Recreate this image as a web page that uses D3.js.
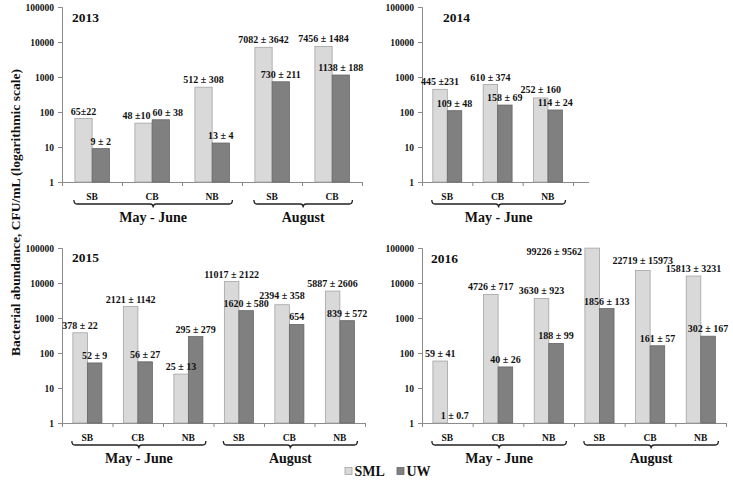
<!DOCTYPE html>
<html><head><meta charset="utf-8">
<script src="https://cdn.jsdelivr.net/npm/d3@7"></script>
<style>
body{margin:0;background:#fff}
text{font-family:"Liberation Serif","Times New Roman",serif;font-weight:bold;fill:#111}
</style>
</head><body>
<svg id="c" width="733" height="481"></svg>
<script>
// ---------------- DATA ----------------
const yTicks = [1, 10, 100, 1000, 10000, 100000];
const seriesNames = ["SML", "UW"];
const yTitle = "Bacterial abundance, CFU/mL (logarithmic scale)";

const cat2013 = ["SB", "CB", "NB", "SB", "CB"];
const period2013 = ["May - June", "May - June", "May - June", "August", "August"];
const sml2013 = [65, 48, 512, 7082, 7456];
const uw2013 = [9, 60, 13, 730, 1138];
const smlLab2013 = ["65±22", "48 ±10", "512 ± 308", "7082 ± 3642", "7456 ± 1484"];
const uwLab2013 = ["9 ± 2", "60 ± 38", "13 ± 4", "730 ± 211", "1138 ± 188"];

const cat2014 = ["SB", "CB", "NB"];
const period2014 = ["May - June", "May - June", "May - June"];
const sml2014 = [445, 610, 252];
const uw2014 = [109, 158, 114];
const smlLab2014 = ["445 ±231", "610 ± 374", "252 ± 160"];
const uwLab2014 = ["109 ± 48", "158 ± 69", "114 ± 24"];

const cat2015 = ["SB", "CB", "NB", "SB", "CB", "NB"];
const period2015 = ["May - June", "May - June", "May - June", "August", "August", "August"];
const sml2015 = [378, 2121, 25, 11017, 2394, 5887];
const uw2015 = [52, 56, 295, 1620, 654, 839];
const smlLab2015 = ["378 ± 22", "2121 ± 1142", "25 ± 13", "11017 ± 2122", "2394 ± 358", "5887 ± 2606"];
const uwLab2015 = ["52 ± 9", "56 ± 27", "295 ± 279", "1620 ± 580", "654", "839 ± 572"];

const cat2016 = ["SB", "CB", "NB", "SB", "CB", "NB"];
const period2016 = ["May - June", "May - June", "May - June", "August", "August", "August"];
const sml2016 = [59, 4726, 3630, 99226, 22719, 15813];
const uw2016 = [1, 40, 188, 1856, 161, 302];
const smlLab2016 = ["59 ± 41", "4726 ± 717", "3630 ± 923", "99226 ± 9562", "22719 ± 15973", "15813 ± 3231"];
const uwLab2016 = ["1 ± 0.7", "40 ± 26", "188 ± 99", "1856 ± 133", "161 ± 57", "302 ± 167"];

// ---------------- LAYOUT ----------------
const colors = { SML: "#d9d9d9", UW: "#808080" };
const strokes = { SML: "#a3a3a3", UW: "#666666" };

const panels = [
  { year: "2013", cats: cat2013, periods: period2013, sml: sml2013, uw: uw2013, sL: smlLab2013, uL: uwLab2013,
    x0: 62, x1: 362, axisEnd: 362, yTop: 7, yBot: 182, yearX: 72, yearY: 21.5 },
  { year: "2014", cats: cat2014, periods: period2014, sml: sml2014, uw: uw2014, sL: smlLab2014, uL: uwLab2014,
    x0: 422, x1: 573, axisEnd: 589, yTop: 7, yBot: 182, yearX: 443, yearY: 21.5 },
  { year: "2015", cats: cat2015, periods: period2015, sml: sml2015, uw: uw2015, sL: smlLab2015, uL: uwLab2015,
    x0: 62, x1: 365, axisEnd: 365, yTop: 248, yBot: 423, yearX: 72, yearY: 261.5 },
  { year: "2016", cats: cat2016, periods: period2016, sml: sml2016, uw: uw2016, sL: smlLab2016, uL: uwLab2016,
    x0: 422, x1: 726, axisEnd: 727, yTop: 248, yBot: 423, yearX: 431, yearY: 262.5 }
];

const svg = d3.select("#c");
const axisColor = "#8a8a8a";

panels.forEach(p => {
  const g = svg.append("g");
  const n = p.cats.length;
  const idx = d3.range(n);
  const x = d3.scaleBand().domain(idx).range([p.x0, p.x1]).padding(0);
  const bw = x.bandwidth();
  const xs = d3.scaleBand().domain(seriesNames).range([bw * 0.215, bw * 0.79]).padding(0);
  const y = d3.scaleLog().domain([1, 100000]).range([p.yBot, p.yTop]);

  // y axis
  const ya = g.append("g").attr("transform", `translate(${p.x0},0)`)
    .call(d3.axisLeft(y).tickValues(yTicks).tickFormat(d3.format("d")).tickSize(4).tickPadding(4));
  ya.select(".domain").attr("stroke", axisColor);
  ya.selectAll(".tick line").attr("stroke", axisColor);
  ya.selectAll(".tick text").attr("font-size", 9.5).attr("fill", "#111")
    .attr("font-family", "Liberation Serif").attr("font-weight", "bold");

  // x axis (cell boundaries as ticks)
  const xl = d3.scaleLinear().domain([0, n]).range([p.x0, p.x1]);
  const xa = g.append("g").attr("transform", `translate(0,${p.yBot})`)
    .call(d3.axisBottom(xl).tickValues(d3.range(n + 1)).tickFormat("").tickSize(4).tickSizeOuter(0));
  xa.select(".domain").attr("stroke", axisColor);
  xa.selectAll(".tick line").attr("stroke", axisColor);
  if (p.axisEnd > p.x1) {
    g.append("line").attr("x1", p.x1).attr("x2", p.axisEnd).attr("y1", p.yBot + 0.5).attr("y2", p.yBot + 0.5)
      .attr("stroke", axisColor);
  }

  // bars
  const rows = [];
  idx.forEach(i => {
    rows.push({ i, s: "SML", v: p.sml[i], lab: p.sL[i] });
    rows.push({ i, s: "UW", v: p.uw[i], lab: p.uL[i] });
  });
  g.selectAll("rect.bar").data(rows).join("rect")
    .attr("class", "bar")
    .attr("x", d => x(d.i) + xs(d.s))
    .attr("width", xs.bandwidth())
    .attr("y", d => y(d.v))
    .attr("height", d => Math.max(0, p.yBot - y(d.v)))
    .attr("fill", d => colors[d.s])
    .attr("stroke", d => d.v > 1 ? strokes[d.s] : "none")
    .attr("stroke-width", 0.8);

  // value labels
  const labs = rows.map(d => {
    const left = x(d.i) + xs(d.s);
    const top = y(d.v);
    const t = g.append("text").attr("font-size", 10).text(d.lab);
    const w = t.node().getComputedTextLength();
    const o = { d, t, w, cx: left + xs.bandwidth() / 2, y: top - 4, fixed: false };
    if (top - 4 - 8 < p.yTop - 2) {
      o.fixed = true;
      o.anchorEnd = left - 3;
      o.y = top + 7;
    }
    return o;
  });
  // same-category horizontal separation
  idx.forEach(i => {
    const L = labs[2 * i], D = labs[2 * i + 1];
    if (L.fixed || D.fixed) return;
    if (Math.abs(L.y - D.y) < 9) {
      const ov = (L.cx + L.w / 2 + 2) - (D.cx - D.w / 2);
      if (ov > 0) { L.cx -= ov / 2; D.cx += ov / 2; }
    }
  });
  // cross-category vertical separation
  for (let a = 0; a < labs.length; a++) {
    for (let b = a + 1; b < labs.length; b++) {
      const A = labs[a], B = labs[b];
      if (A.fixed || B.fixed || A.d.i === B.d.i) continue;
      const hov = Math.min(A.cx + A.w / 2, B.cx + B.w / 2) - Math.max(A.cx - A.w / 2, B.cx - B.w / 2);
      if (hov > 0 && Math.abs(A.y - B.y) < 8) {
        if (A.y < B.y) A.y = B.y - 8; else B.y = A.y - 8;
      }
    }
  }
  labs.forEach(o => {
    if (o.fixed) {
      o.t.attr("x", o.anchorEnd).attr("y", o.y).attr("text-anchor", "end");
    } else {
      let cx = Math.min(o.cx, 731 - o.w / 2);
      o.t.attr("x", cx).attr("y", o.y).attr("text-anchor", "middle");
    }
  });

  // category labels
  g.selectAll("text.cat").data(idx).join("text")
    .attr("class", "cat")
    .attr("x", i => x(i) + bw / 2)
    .attr("y", p.yBot + 17.5)
    .attr("text-anchor", "middle")
    .attr("font-size", 9.5)
    .text(i => p.cats[i]);

  // period braces
  const groups = [];
  idx.forEach(i => {
    const last = groups[groups.length - 1];
    if (last && last.name === p.periods[i]) last.end = i;
    else groups.push({ name: p.periods[i], start: i, end: i });
  });
  groups.forEach(gr => {
    const xsx = x(gr.start) + xs("SML") - 1;
    const xex = x(gr.end) + xs("UW") + xs.bandwidth() + 3;
    const xm = (xsx + xex) / 2;
    const yy = p.yBot + 22, r = 3;
    const path = `M${xsx},${yy - 4} Q${xsx},${yy} ${xsx + r},${yy} L${xm - r},${yy} Q${xm},${yy} ${xm},${yy + 3.5} Q${xm},${yy} ${xm + r},${yy} L${xex - r},${yy} Q${xex},${yy} ${xex},${yy - 4}`;
    g.append("path").attr("d", path).attr("fill", "none").attr("stroke", "#222").attr("stroke-width", 1.3);
    g.append("text").attr("x", xm).attr("y", p.yBot + 39.5).attr("text-anchor", "middle")
      .attr("font-size", 14).text(gr.name);
  });

  // year label
  g.append("text").attr("x", p.yearX).attr("y", p.yearY).attr("font-size", 13.5).text(p.year);
});

// y-axis title
svg.append("text")
  .attr("transform", "translate(19.5,212.5) rotate(-90)")
  .attr("text-anchor", "middle")
  .attr("font-size", 13.5)
  .text(yTitle);

// legend
const leg = svg.append("g");
const legItems = [{ s: "SML", x: 345 }, { s: "UW", x: 397 }];
legItems.forEach(it => {
  leg.append("rect").attr("x", it.x).attr("y", 467.5).attr("width", 7).attr("height", 7)
    .attr("fill", colors[it.s]).attr("stroke", strokes[it.s]).attr("stroke-width", 0.8);
  leg.append("text").attr("x", it.x + 9.5).attr("y", 476).attr("font-size", 14).text(it.s);
});
</script>
</body></html>
